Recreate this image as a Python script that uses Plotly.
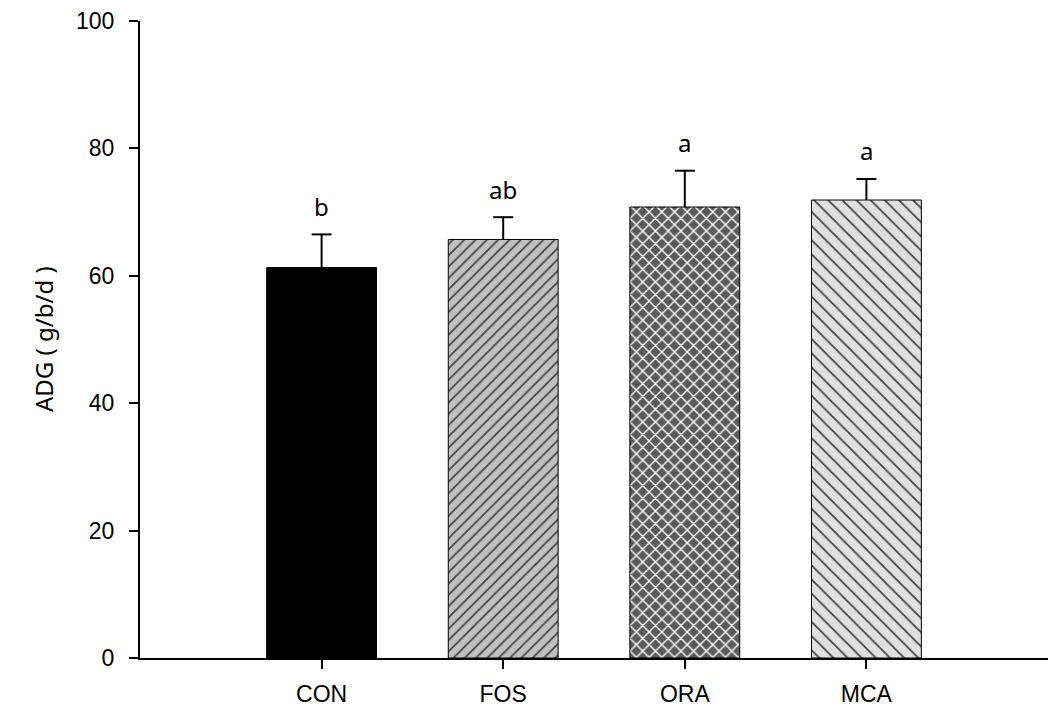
import plotly.graph_objects as go

# Average daily gain by treatment group
groups = ["CON", "FOS", "ORA", "MCA"]
adg_mean = [61.3, 65.7, 70.8, 71.9]
adg_se = [5.2, 3.5, 5.7, 3.3]
sig_letters = ["b", "ab", "a", "a"]

y_ticks = [0, 20, 40, 60, 80, 100]

fill_colors = ["#000000", "#c0c0c0", "#5a5a5a", "#e0e0e0"]
line_colors = ["#000000", "#000000", "#000000", "#000000"]
pattern_shapes = ["", "/", "x", "\\"]
pattern_sizes = [8, 8, 9, 10]
pattern_solidity = [0.2, 0.22, 0.28, 0.18]

x_pos = list(range(len(groups)))
cap_half = 0.055  # half-width of the error-bar cap, in category units

fig = go.Figure()
fig.add_trace(go.Bar(
    x=x_pos,
    y=adg_mean,
    width=0.605,
    marker=dict(
        color=fill_colors,
        line=dict(color="black", width=1),
        pattern=dict(
            shape=pattern_shapes,
            fgcolor=line_colors,
            fgopacity=1,
            size=pattern_sizes,
            solidity=pattern_solidity,
            fillmode="overlay",
        ),
    ),
    showlegend=False,
))

# upper error bars: stem from bar top plus a horizontal cap
err_x, err_y = [], []
for xi, m, s in zip(x_pos, adg_mean, adg_se):
    err_x += [xi, xi, None, xi - cap_half, xi + cap_half, None]
    err_y += [m, m + s, None, m + s, m + s, None]
fig.add_trace(go.Scatter(
    x=err_x, y=err_y, mode="lines",
    line=dict(color="black", width=2),
    showlegend=False, hoverinfo="skip",
))

# significance letters above each error bar
for xi, m, s, lab in zip(x_pos, adg_mean, adg_se, sig_letters):
    fig.add_annotation(
        x=xi, y=m + s, text=lab, showarrow=False,
        yanchor="middle", yshift=28,
        font=dict(family="Noto Sans", size=24, color="black"),
    )

fig.add_annotation(
    xref="paper", yref="paper", x=0, y=0.5, xshift=-115,
    text="ADG ( g/b/d )", textangle=-90, showarrow=False,
    font=dict(family="Noto Sans", size=24, color="black"),
)

fig.update_layout(
    width=1048, height=711,
    margin=dict(l=140, r=0, t=21, b=53, autoexpand=False),
    paper_bgcolor="white", plot_bgcolor="white",
    font=dict(family="Liberation Sans, Arial, sans-serif", size=23, color="black"),
)
fig.update_xaxes(
    range=[-1, 4],
    tickmode="array", tickvals=x_pos, ticktext=groups,
    ticks="outside", ticklen=9, tickwidth=2, tickcolor="black",
    showline=True, linecolor="black", linewidth=2,
    showgrid=False, zeroline=False, automargin=False,
    ticklabelstandoff=5,
)
fig.update_yaxes(
    range=[0, 100],
    tickmode="array", tickvals=y_ticks,
    ticks="outside", ticklen=9, tickwidth=2, tickcolor="black",
    showline=True, linecolor="black", linewidth=2,
    showgrid=False, zeroline=False, automargin=False,
    ticklabelstandoff=10,
)

fig.write_html("out.html")
